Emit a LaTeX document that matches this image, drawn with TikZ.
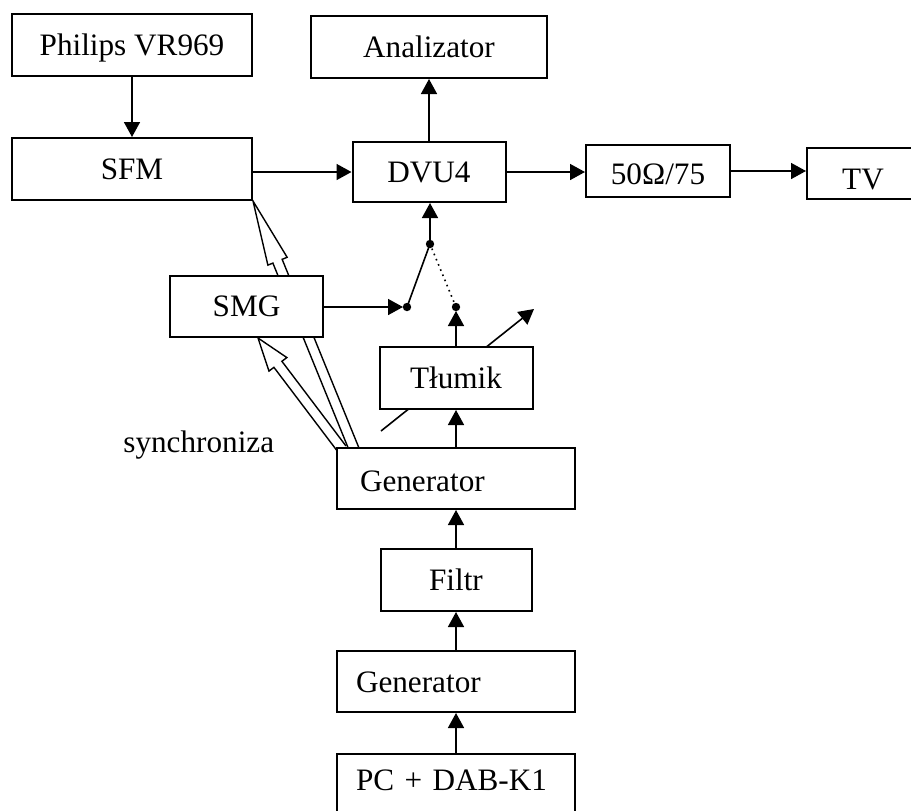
\documentclass[tikz,border=0pt]{standalone}
\usepackage{fontspec}
\setmainfont{Liberation Serif}
\usetikzlibrary{arrows.meta,calc,backgrounds}

% hollow block arrow: tail, tip, head length, head half width, shaft half width
\newcommand{\hollowarr}[5]{%
  \coordinate (ha-n) at ($(#2)!#3!(#1)$);
  \draw[line width=0.7pt, fill=white, line join=miter]
    ($(#1)!#5!90:(#2)$) -- ($(ha-n)!#5!90:(#2)$) -- ($(ha-n)!#4!90:(#2)$)
    -- (#2) -- ($(ha-n)!#4!-90:(#2)$) -- ($(ha-n)!#5!-90:(#2)$)
    -- ($(#1)!#5!-90:(#2)$);
}

\begin{document}
\begin{tikzpicture}[x=0.5pt, y=-0.5pt,
  every node/.style={font=\fontsize{15.6}{18}\selectfont},
  box/.style={draw, fill=white, line width=1pt, inner sep=0pt,
    text height=10.3pt, text depth=0pt},
  leftbox/.style={box, minimum width=119pt, minimum height=30.5pt, align=left},
  arr/.style={-{Triangle[length=7.5pt,width=8pt]}, line width=0.8pt}]
  \useasboundingbox (0,0) rectangle (911,810);
  \clip (0,0) rectangle (911,810);

  % top row
  \node[box, minimum width=120pt, minimum height=31pt] (phil) at (132,45) {Philips VR969};
  \node[box, minimum width=120pt, minimum height=31pt] (sfm) at (132,169) {SFM};
  \node[box, minimum width=118pt, minimum height=31pt] (anal) at (429,47) {Analizator};
  \node[box, minimum width=76.5pt, minimum height=30pt] (dvu) at (429,172) {DVU4};
  \node[box, minimum width=72pt, minimum height=26pt, text height=13.8pt] (ohm) at (658,171) {50Ω/75};
  \node[box, minimum width=56pt, minimum height=25.5pt, text height=16.3pt] (tv) at (863,173.5) {TV};

  % middle
  \node[box, minimum width=76.5pt, minimum height=30.5pt] (smg) at (246.5,306.5) {SMG};
  \node[box, minimum width=76.5pt, minimum height=31pt] (tlum) at (456,378) {Tłumik};
  \node[leftbox, inner xsep=11.5pt, text width=96pt, text height=12.8pt] (gen1) at (456,478.5) {Generator};
  \node[anchor=base west, inner sep=0pt] (sync) at (123,452) {synchroniza};

  % bottom column
  \node[box, minimum width=75.5pt, minimum height=31pt] (filtr) at (456,580) {Filtr};
  \node[leftbox, inner xsep=9.5pt, text width=100pt, text height=11.3pt] (gen2) at (456,681.5) {Generator};
  \node[leftbox, minimum height=31pt, inner xsep=9.5pt, text width=100pt, text height=5.3pt] (pc) at (456,785) {PC + DAB-K1};

  % switch
  \coordinate (swtop) at (430,244);
  \coordinate (swa) at (407,307);
  \coordinate (swb) at (456,307);
  \coordinate (attlo) at (381,431);
  \coordinate (atthi) at (534,309);
  \coordinate (tsfm) at (354,449);
  \coordinate (tsmg) at (342,449);
  \coordinate (hsmg) at ([xshift=5.75pt]smg.south);

  \draw[arr] (phil) -- (sfm);
  \draw[arr] (sfm.east |- dvu.west) -- (dvu.west);
  \draw[arr] (dvu) -- (anal);
  \draw[arr] (dvu.east) -- (dvu.east -| ohm.west);
  \draw[arr] (ohm.east) -- (ohm.east -| tv.west);

  \draw[arr, shorten >=2pt] (smg.east |- swa) -- (swa);
  \draw[line width=0.8pt] (swa) -- (swtop);
  \draw[dotted, line width=0.8pt] (swb) -- (swtop);
  \draw[arr] (swtop) -- (swtop |- dvu.south);
  \draw[arr, shorten >=2pt] (tlum.north -| swb) -- (swb);
  \fill (swtop) circle (2.1pt) (swa) circle (2.1pt) (swb) circle (2.1pt);

  \draw[arr] (gen1) -- (tlum);
  \draw[arr] (filtr) -- (gen1);
  \draw[arr] (gen2) -- (filtr);
  \draw[arr] (pc) -- (gen2);

  \begin{scope}[on background layer]
    \draw[arr] (attlo) -- (atthi);
    \hollowarr{tsfm}{sfm.south east}{32.5pt}{5.2pt}{2.5pt}
    \hollowarr{tsmg}{hsmg}{16.5pt}{5.6pt}{2.5pt}
  \end{scope}
\end{tikzpicture}
\end{document}
